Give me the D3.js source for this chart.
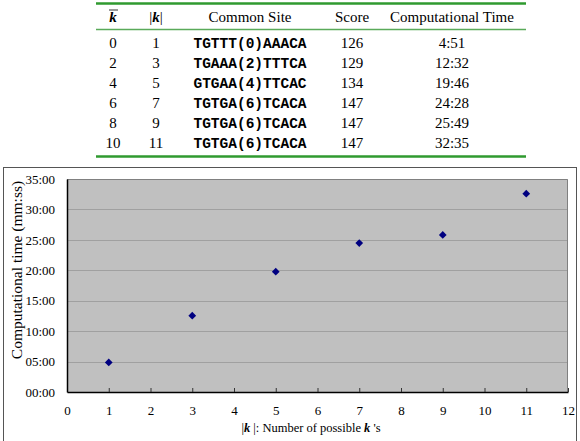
<!DOCTYPE html>
<html><head><meta charset="utf-8">
<script src="https://cdn.jsdelivr.net/npm/d3@7"></script>
<style>
body{margin:0;background:#fff}svg{display:block}
.serif{font-family:"Liberation Serif","Times New Roman",Times,serif}
.mono{font-family:"Liberation Mono","Courier New",Courier,monospace;font-weight:bold}
</style>
</head><body>
<svg id="c" width="580" height="441"></svg>
<script>
// Data
const kbar = [0, 2, 4, 6, 8, 10];
const kSize = [1, 3, 5, 7, 9, 11];
const commonSite = ["TGTTT(0)AAACA", "TGAAA(2)TTTCA", "GTGAA(4)TTCAC", "TGTGA(6)TCACA", "TGTGA(6)TCACA", "TGTGA(6)TCACA"];
const score = [126, 129, 134, 147, 147, 147];
const compTime = ["4:51", "12:32", "19:46", "24:28", "25:49", "32:35"];
const xTicks = [0,1,2,3,4,5,6,7,8,9,10,11,12];
const yTicksMin = [0,5,10,15,20,25,30,35];

const toMin = s => { const [m, sec] = s.split(":").map(Number); return m + sec/60; };
const fmt = m => String(m).padStart(2,"0") + ":00";

const svg = d3.select("#c");

// ---------- Table ----------
const tbl = svg.append("g");
const green = "#2f9a2f";
const tx0 = 96, tx1 = 526;
tbl.append("line").attr("x1",tx0).attr("x2",tx1).attr("y1",3.5).attr("y2",3.5).attr("stroke",green).attr("stroke-width",2.5);
tbl.append("line").attr("x1",tx0).attr("x2",tx1).attr("y1",29.5).attr("y2",29.5).attr("stroke","#5aaa5a").attr("stroke-width",1.5);
tbl.append("line").attr("x1",tx0).attr("x2",tx1).attr("y1",156.5).attr("y2",156.5).attr("stroke",green).attr("stroke-width",2.5);

const colX = [113, 156, 250, 352, 452];
const hy = 22;
tbl.append("text").attr("class","serif").attr("x",colX[0]).attr("y",hy).attr("text-anchor","middle")
  .attr("font-size",15).attr("font-weight","bold").attr("font-style","italic").text("k");
tbl.append("line").attr("x1",colX[0]-4).attr("x2",colX[0]+5).attr("y1",hy-12).attr("y2",hy-12).attr("stroke","#000").attr("stroke-width",0.8);
const kh = tbl.append("text").attr("class","serif").attr("x",colX[1]).attr("y",hy).attr("text-anchor","middle").attr("font-size",15);
kh.append("tspan").text("|");
kh.append("tspan").attr("font-weight","bold").attr("font-style","italic").text("k");
kh.append("tspan").text("|");
["Common Site","Score","Computational Time"].forEach((t,i)=>{
  tbl.append("text").attr("class","serif").attr("x",colX[i+2]).attr("y",hy).attr("text-anchor","middle")
    .attr("font-size",15).text(t);
});
const rowY = d3.scaleLinear().domain([0,5]).range([48,148]);
kbar.forEach((v,i)=>{
  const yy = rowY(i);
  const cells = [v, kSize[i], commonSite[i], score[i], compTime[i]];
  cells.forEach((c,j)=>{
    tbl.append("text").attr("class", j===2 ? "mono" : "serif").attr("x",colX[j]).attr("y",yy).attr("text-anchor","middle")
      .attr("font-size", j===2 ? 14.5 : 15).text(c);
  });
});

// ---------- Chart ----------
svg.append("rect").attr("x",3.5).attr("y",167.5).attr("width",573).attr("height",280)
  .attr("fill","#fff").attr("stroke","#555").attr("stroke-width",1);

const m = {l:67, r:568, t:179, b:392};
const x = d3.scaleLinear().domain([0,12]).range([m.l, m.r]);
const y = d3.scaleLinear().domain([0,35]).range([m.b, m.t]);

svg.append("rect").attr("x",m.l).attr("y",m.t).attr("width",m.r-m.l).attr("height",m.b-m.t).attr("fill","#c0c0c0");

svg.append("g").selectAll("line").data(yTicksMin.filter(d=>d>0 && d<35)).join("line")
  .attr("x1",m.l).attr("x2",m.r).attr("y1",d=>Math.round(y(d))+0.5).attr("y2",d=>Math.round(y(d))+0.5)
  .attr("stroke","#a0a0a0").attr("stroke-width",1);

svg.append("path").attr("d",`M${m.l},${m.t+0.5}H${m.r-0.5}V${m.b}`).attr("fill","none").attr("stroke","#808080");

const xAxis = d3.axisBottom(x).tickValues(xTicks).tickSizeInner(-4).tickSizeOuter(0).tickPadding(14).tickFormat(d3.format("d"));
const gx = svg.append("g").attr("transform",`translate(0,${m.b})`).call(xAxis);
gx.attr("font-family",null).attr("font-size",null);
gx.select(".domain").attr("stroke","#000").attr("stroke-width",1.5);
gx.selectAll(".tick line").attr("stroke","#333");
gx.selectAll("text").attr("class","serif").attr("font-size",13).attr("fill","#000");

const yAxis = d3.axisLeft(y).tickValues(yTicksMin).tickSize(0).tickPadding(12).tickFormat(fmt);
const gy = svg.append("g").attr("transform",`translate(${m.l},0)`).call(yAxis);
gy.attr("font-family",null).attr("font-size",null);
gy.select(".domain").attr("stroke","#000").attr("stroke-width",1.5);
gy.selectAll("text").attr("class","serif").attr("font-size",13).attr("fill","#000");

// markers (square rotated 45deg)
const sq = d3.symbol().type(d3.symbolSquare).size(30);
svg.append("g").selectAll("path").data(kSize).join("path")
  .attr("transform",(d,i)=>`translate(${x(d)},${y(toMin(compTime[i]))}) rotate(45)`)
  .attr("d",sq).attr("fill","#000080");

const xt = svg.append("text").attr("class","serif").attr("x",311).attr("y",432).attr("text-anchor","middle").attr("font-size",12.5);
xt.append("tspan").text("|");
xt.append("tspan").attr("font-weight","bold").attr("font-style","italic").text("k");
xt.append("tspan").text(" |: Number of possible ");
xt.append("tspan").attr("font-weight","bold").attr("font-style","italic").text("k");
xt.append("tspan").text(" 's");

svg.append("text").attr("class","serif").attr("transform",`translate(22,270) rotate(-90)`).attr("text-anchor","middle")
  .attr("font-size",15.5).text("Computational time (mm:ss)");
</script>
</body></html>
